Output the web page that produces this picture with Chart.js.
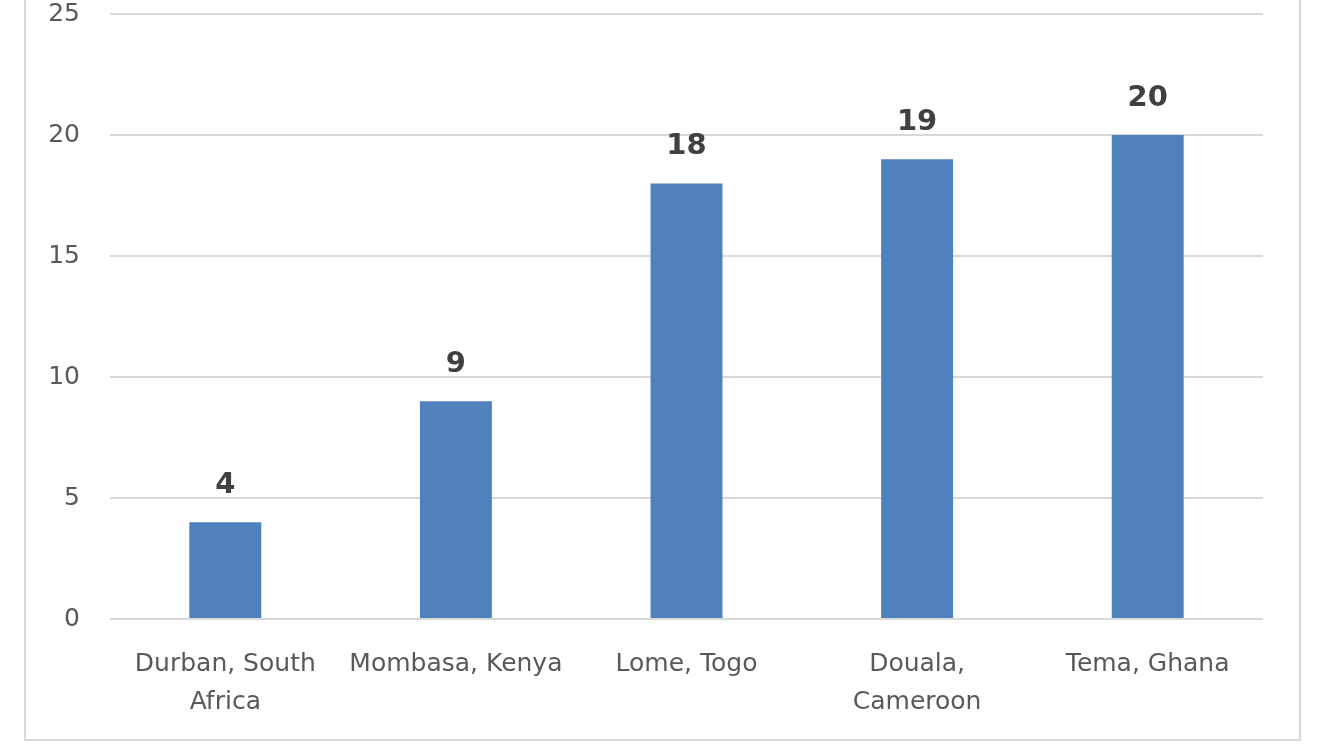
<!DOCTYPE html>
<html>
<head>
<meta charset="utf-8">
<script src="https://cdn.jsdelivr.net/npm/chart.js@4"></script>
<style>
  html, body { margin: 0; padding: 0; background: #fff; overflow: hidden; }
  #wrap { position: relative; width: 1328px; height: 747px; overflow: hidden; }
  #frame { position: absolute; left: 24px; top: -20px; width: 1277px; height: 761px; border: 2px solid #d9d9d9; box-sizing: border-box; }
  #lienzo { position: absolute; left: 0; top: -31px; width: 1328px; height: 778px; }
</style>
</head>
<body>
<div id="wrap">
  <div id="frame"></div>
  <div id="lienzo"><canvas id="grafico"></canvas></div>
</div>
<script>
const puertos = [["Durban, South", "Africa"], "Mombasa, Kenya", "Lome, Togo", ["Douala,", "Cameroon"], "Tema, Ghana"];
const valores = [4, 9, 18, 19, 20];
const ticksY = [0, 5, 10, 15, 20, 25];

// etiquetas de valor encima de cada barra
const etiquetas = {
  id: "etiquetas",
  afterDatasetsDraw(chart){
    const ctx = chart.ctx;
    const meta = chart.getDatasetMeta(0);
    ctx.save();
    ctx.font = "bold 29px 'DejaVu Sans'";
    ctx.fillStyle = "#404040";
    ctx.textAlign = "center";
    ctx.textBaseline = "middle";
    meta.data.forEach((bar, i) => {
      ctx.fillText(valores[i], bar.x, bar.y - 37);
    });
    ctx.restore();
  }
};

const ctx = document.getElementById("grafico").getContext("2d");

new Chart(ctx, {
  type: "bar",
  data: {
    labels: puertos,
    datasets: [{
      data: valores,
      backgroundColor: "#4f81bd",
      categoryPercentage: 1,
      barPercentage: 0.312
    }]
  },
  options: {
    responsive: true,
    maintainAspectRatio: false,
    animation: false,
    layout: { padding: { top: 0, right: 65, left: 0, bottom: 0 } },
    plugins: { legend: { display: false }, tooltip: { enabled: false } },
    scales: {
      x: {
        grid: { display: false },
        border: { display: false },
        ticks: {
          color: "#595959",
          font: { family: "DejaVu Sans", size: 25, lineHeight: 1.52 },
          padding: 18,
          maxRotation: 0,
          autoSkip: false
        },
        afterFit(scale){ scale.height = 128; }
      },
      y: {
        min: 0,
        max: 25,
        afterBuildTicks(scale){ scale.ticks = ticksY.map(v => ({ value: v })); },
        grid: { color: "#d9d9d9", lineWidth: 2, drawTicks: false },
        border: { display: false },
        ticks: {
          color: "#595959",
          font: { family: "DejaVu Sans", size: 25 },
          padding: 30
        },
        afterFit(scale){ scale.width = 110; }
      }
    }
  },
  plugins: [etiquetas]
});
</script>
</body>
</html>
